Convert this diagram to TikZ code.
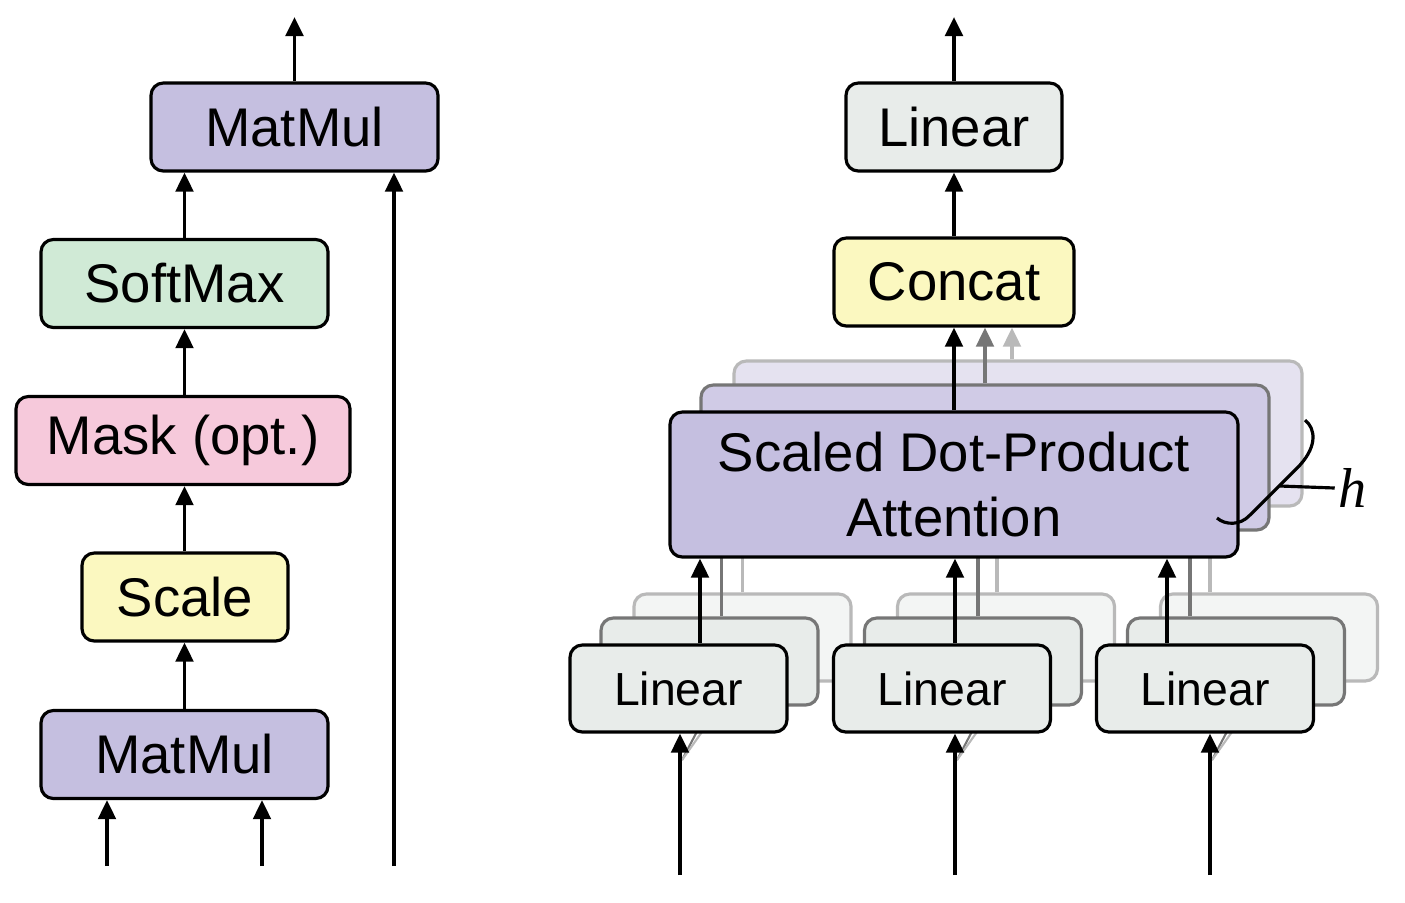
\documentclass[tikz,border=0pt]{standalone}
\usepackage{fontspec}
\setmainfont{Liberation Sans}
\newfontfamily\hfont{Liberation Serif}
\usetikzlibrary{arrows.meta}

\definecolor{mmpurple}{RGB}{197,191,224}
\definecolor{smgreen}{RGB}{208,234,214}
\definecolor{mskpink}{RGB}{246,201,219}
\definecolor{sclyellow}{RGB}{251,248,192}
\definecolor{lingray}{RGB}{232,236,234}
\definecolor{linpale}{RGB}{243,245,244}
\definecolor{attmid}{RGB}{208,203,230}
\definecolor{attpale}{RGB}{229,226,240}
\definecolor{edgemid}{RGB}{118,118,118}
\definecolor{edgepale}{RGB}{185,185,185}

\tikzset{
  blk/.style={draw=black,line width=0.9pt,rounded corners=3.5pt,minimum height=0.88cm,inner sep=0pt,align=center,font=\fontsize{15.5}{18.5}\selectfont},
  matmul/.style={blk,fill=mmpurple,minimum width=2.87cm},
  attbox/.style={blk,fill=mmpurple,minimum width=5.68cm,minimum height=1.45cm},
  linbox/.style={blk,fill=lingray,minimum width=2.17cm,minimum height=0.87cm,font=\fontsize{13.2}{16}\selectfont},
  mid/.style={draw=edgemid},
  pale/.style={draw=edgepale},
  flow/.style={line width=1pt,-{Triangle[length=1.9mm,width=1.75mm]}},
  gline/.style={line width=0.9pt,edgemid},
  pline/.style={line width=0.9pt,edgepale},
}

\begin{document}
\begin{tikzpicture}[>=Latex]
\useasboundingbox (0,0) rectangle (14.05,-9.02);

% scaled dot-product attention (left)
\node[matmul] (mmtop) at (2.945,-1.27) {MatMul};
\node[blk,fill=smgreen,minimum width=2.87cm] (soft) at (1.845,-2.835) {SoftMax};
\node[blk,fill=mskpink,minimum width=3.34cm] (mask) at (1.83,-4.405) {Mask (opt.)};
\node[blk,fill=sclyellow,minimum width=2.06cm] (scale) at (1.85,-5.97) {Scale};
\node[matmul] (mmbot) at (1.845,-7.545) {MatMul};
\coordinate (outL) at (2.945,-0.17);
\coordinate (inQ) at (1.07,-8.66);
\coordinate (inK) at (2.62,-8.66);
\coordinate (inV) at (3.94,-8.66);
\draw[flow] (inQ) -- (inQ |- mmbot.south);
\draw[flow] (inK) -- (inK |- mmbot.south);
\draw[flow] (mmbot.north) -- (mmbot.north |- scale.south);
\draw[flow] (mmbot.north |- scale.north) -- (mmbot.north |- mask.south);
\draw[flow] (mmbot.north |- mask.north) -- (mmbot.north |- soft.south);
\draw[flow] (soft.north) -- (soft.north |- mmtop.south);
\draw[flow] (inV) -- (inV |- mmtop.south);
\draw[flow] (mmtop.north) -- (outL);

% multi-head attention (right), back layers first
\node[linbox,pale,fill=linpale] (la3) at (7.425,-6.375) {\phantom{Linear}};
\node[linbox,pale,fill=linpale] (lb3) at (10.06,-6.375) {\phantom{Linear}};
\node[linbox,pale,fill=linpale] (lc3) at (12.69,-6.375) {\phantom{Linear}};
\node[attbox,pale,fill=attpale] (att3) at (10.18,-4.335) {};
\draw[pline] (la3.north) -- (la3.north |- att3.south);
\draw[pline] ([xshift=-0.9mm]lb3.north) -- ([xshift=-0.9mm]lb3.north |- att3.south);
\draw[pline] ([xshift=-5.9mm]lc3.north) -- ([xshift=-5.9mm]lc3.north |- att3.south);
\node[linbox,mid] (la2) at (7.095,-6.615) {\phantom{Linear}};
\node[linbox,mid] (lb2) at (9.73,-6.615) {\phantom{Linear}};
\node[linbox,mid] (lc2) at (12.36,-6.615) {\phantom{Linear}};
\node[attbox,mid,fill=attmid] (att2) at (9.85,-4.575) {};
\draw[gline] ([xshift=1.2mm]la2.north) -- ([xshift=1.2mm]la2.north |- att2.south);
\draw[gline] ([xshift=0.5mm]lb2.north) -- ([xshift=0.5mm]lb2.north |- att2.south);
\draw[gline] ([xshift=-4.6mm]lc2.north) -- ([xshift=-4.6mm]lc2.north |- att2.south);
\node[attbox] (att) at (9.54,-4.845) {Scaled Dot-Product\\Attention};

% inputs fan out to the hidden heads
\coordinate (ina) at (6.80,-8.75);
\coordinate (inb) at (9.55,-8.75);
\coordinate (inc) at (12.10,-8.75);
\draw[gline,line width=0.6pt] (6.82,-7.60) -- ++(0.2,0.38);
\draw[pline,line width=0.6pt] (6.82,-7.60) -- ++(0.27,0.38);
\draw[gline,line width=0.6pt] (9.57,-7.60) -- ++(0.2,0.38);
\draw[pline,line width=0.6pt] (9.57,-7.60) -- ++(0.27,0.38);
\draw[gline,line width=0.6pt] (12.12,-7.60) -- ++(0.2,0.38);
\draw[pline,line width=0.6pt] (12.12,-7.60) -- ++(0.27,0.38);

\node[linbox] (la) at (6.785,-6.885) {Linear};
\node[linbox] (lb) at (9.42,-6.885) {Linear};
\node[linbox] (lc) at (12.05,-6.885) {Linear};
\draw[flow] (ina) -- (ina |- la.south);
\draw[flow] (inb) -- (inb |- lb.south);
\draw[flow] (inc) -- (inc |- lc.south);
\draw[flow] ([xshift=2.15mm]la.north) -- ([xshift=2.15mm]la.north |- att.south);
\draw[flow] ([xshift=1.3mm]lb.north) -- ([xshift=1.3mm]lb.north |- att.south);
\draw[flow] ([xshift=-3.8mm]lc.north) -- ([xshift=-3.8mm]lc.north |- att.south);

\node[blk,fill=sclyellow,minimum width=2.40cm] (concat) at (9.54,-2.82) {Concat};
\node[blk,fill=lingray,minimum width=2.16cm] (lintop) at (9.54,-1.27) {Linear};
\coordinate (outR) at (9.54,-0.17);
\draw[flow,edgepale] ([xshift=-0.6mm]att3.north) -- ([xshift=-0.6mm]att3.north |- concat.south);
\draw[flow,edgemid] (att2.north) -- (att2.north |- concat.south);
\draw[flow] (att.north) -- (concat.south);
\draw[flow] (concat.north) -- (lintop.south);
\draw[flow] (lintop.north) -- (outR);

% h heads brace
\node[font=\hfont\itshape\fontsize{16}{19}\selectfont,inner sep=1pt] (hlab) at (13.53,-4.88) {h};
\coordinate (brk) at (12.80,-4.86);
\draw[line width=0.9pt] (13.05,-4.20) .. controls (13.15,-4.28) and (13.18,-4.45) .. (13.00,-4.65)
  -- (12.50,-5.15) .. controls (12.40,-5.26) and (12.25,-5.25) .. (12.17,-5.18);
\draw[line width=0.9pt] (brk) -- (hlab.west);
\end{tikzpicture}
\end{document}
